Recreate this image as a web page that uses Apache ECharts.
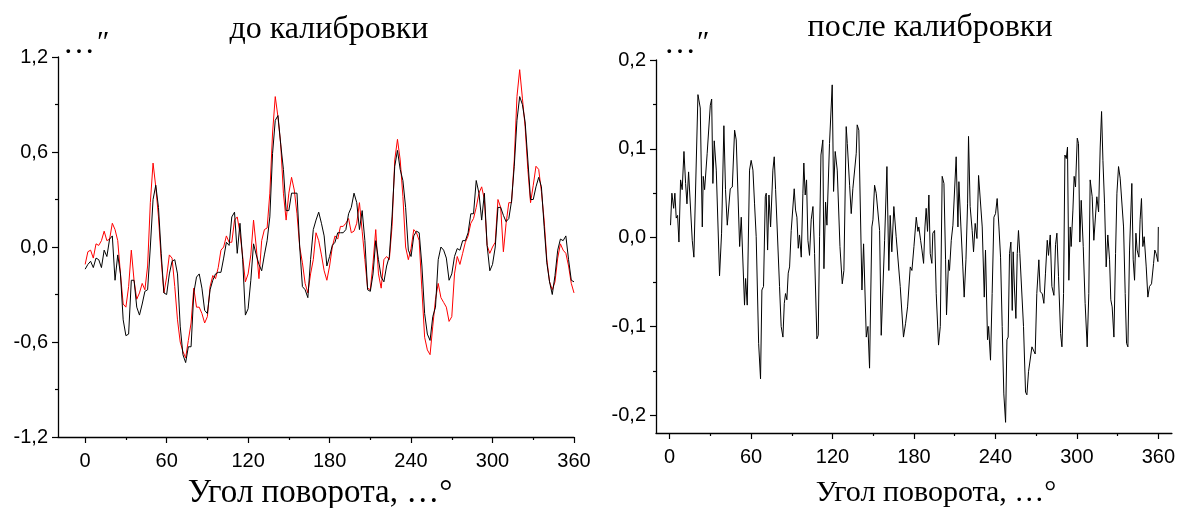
<!DOCTYPE html>
<html>
<head>
<meta charset="utf-8">
<script src="https://cdn.jsdelivr.net/npm/echarts@6/dist/echarts.min.js"></script>
<style>
  html, body { margin: 0; padding: 0; background: #fff; }
  #chart { width: 1178px; height: 508px; }
</style>
</head>
<body>
<div id="chart"></div>
<script>
// left panel: 2-degree step, 0..360
const STEP = 2;
const beforeBlack = [
  -0.14, -0.11, -0.09, -0.13, -0.07, -0.08, -0.13, -0.02, -0.06, 0.05,
  0.07, -0.21, -0.05, -0.17, -0.46, -0.56, -0.55, -0.21, -0.21, -0.38,
  -0.43, -0.36, -0.28, -0.27, 0.00, 0.30, 0.39, 0.25, -0.04, -0.29,
  -0.30, -0.17, -0.09, -0.08, -0.17, -0.50, -0.68, -0.73, -0.63, -0.63,
  -0.29, -0.19, -0.17, -0.26, -0.40, -0.42, -0.27, -0.21, -0.17, -0.16,
  -0.16, -0.07, 0.03, 0.01, 0.19, 0.22, -0.04, 0.15, -0.08, -0.43,
  -0.39, -0.21, 0.02, -0.05, -0.11, -0.15, -0.05, 0.04, 0.19, 0.59,
  0.80, 0.83, 0.65, 0.49, 0.23, 0.23, 0.34, 0.34, 0.34, 0.00,
  -0.25, -0.27, -0.32, -0.08, 0.11, 0.17, 0.22, 0.15, 0.07, -0.12,
  -0.06, 0.01, 0.03, 0.09, 0.09, 0.09, 0.11, 0.21, 0.25, 0.34,
  0.28, 0.11, 0.23, 0.04, -0.27, -0.28, -0.17, 0.04, -0.08, -0.19,
  -0.22, -0.12, -0.06, 0.19, 0.51, 0.61, 0.49, 0.42, 0.25, -0.02,
  -0.06, 0.07, 0.10, 0.09, -0.12, -0.42, -0.55, -0.59, -0.44, -0.38,
  -0.08, 0.00, -0.02, -0.07, -0.21, -0.17, -0.06, -0.01, -0.02, 0.04,
  0.04, 0.09, 0.21, 0.21, 0.42, 0.34, 0.17, 0.34, 0.01, -0.15,
  -0.11, 0.00, 0.25, 0.25, 0.20, 0.16, 0.18, 0.29, 0.51, 0.80,
  0.95, 0.90, 0.79, 0.55, 0.30, 0.30, 0.38, 0.44, 0.38, 0.13,
  -0.10, -0.22, -0.30, -0.18, -0.02, 0.05, 0.04, 0.07, -0.08, -0.21,
  -0.22
];
const beforeRed = [
  -0.11, -0.03, -0.02, -0.07, 0.02, 0.01, 0.04, 0.10, 0.04, 0.05,
  0.15, 0.11, 0.04, -0.17, -0.36, -0.38, -0.25, -0.02, -0.21, -0.33,
  -0.29, -0.23, -0.27, -0.12, 0.28, 0.53, 0.38, 0.19, -0.08, -0.29,
  -0.19, -0.05, -0.07, -0.25, -0.46, -0.60, -0.66, -0.70, -0.59, -0.48,
  -0.26, -0.38, -0.38, -0.42, -0.48, -0.44, -0.25, -0.18, -0.20, -0.13,
  -0.02, 0.00, 0.07, 0.03, 0.03, 0.17, 0.19, 0.09, -0.06, -0.22,
  -0.17, -0.05, 0.17, 0.00, -0.20, 0.04, 0.11, 0.12, 0.34, 0.72,
  0.95, 0.82, 0.65, 0.34, 0.17, 0.34, 0.44, 0.36, 0.21, 0.00,
  -0.10, -0.23, -0.29, -0.17, -0.08, 0.09, 0.04, -0.05, -0.15, -0.21,
  -0.12, 0.00, 0.07, 0.05, 0.13, 0.13, 0.15, 0.18, 0.09, 0.10,
  0.15, 0.28, 0.10, -0.08, -0.26, -0.27, -0.10, 0.11, -0.17, -0.26,
  -0.08, -0.06, -0.08, 0.13, 0.55, 0.68, 0.55, 0.32, 0.00, -0.08,
  -0.01, 0.11, 0.09, 0.04, -0.27, -0.57, -0.65, -0.68, -0.50, -0.33,
  -0.23, -0.32, -0.35, -0.38, -0.47, -0.44, -0.17, -0.06, -0.11, -0.04,
  0.03, 0.07, 0.15, 0.18, 0.25, 0.34, 0.38, 0.30, 0.01, -0.04,
  0.00, 0.03, 0.30, 0.25, -0.03, 0.15, 0.28, 0.28, 0.55, 0.95,
  1.12, 0.94, 0.76, 0.49, 0.28, 0.39, 0.51, 0.49, 0.35, 0.17,
  -0.08, -0.22, -0.27, -0.22, -0.07, 0.02, -0.02, -0.04, -0.12, -0.23,
  -0.29
];

// right panel: traced vertices (angle, value)
const afterAngles = [
  0.7, 1.7, 3.0, 3.9, 4.9, 5.9, 6.9, 8.1, 9.3, 10.6, 11.8, 12.8, 14.0, 15.2, 16.7, 17.9, 18.9,
  20.9, 21.6, 22.6, 24.1, 24.8, 25.8, 27.7, 29.0, 30.0, 31.0, 31.9, 32.9, 34.4, 36.8, 38.3,
  40.0, 41.2, 42.5, 43.5, 44.7, 46.2, 47.9, 49.1, 51.6, 52.8, 55.2, 56.0, 57.2, 58.9, 60.1,
  61.4, 62.6, 63.8, 65.6, 67.0, 68.0, 69.2, 70.5, 71.2, 72.2, 73.2, 74.4, 76.1, 77.1, 78.1,
  79.0, 81.0, 82.2, 83.5, 84.5, 85.4, 86.4, 87.4, 88.4, 89.6, 90.8, 91.8, 92.8, 93.8, 94.8,
  95.7, 97.0, 98.2, 98.9, 99.9, 100.9, 101.9, 103.1, 104.3, 105.6, 106.8, 108.5, 109.5,
  110.5, 111.5, 112.9, 113.7, 114.9, 115.9, 117.8, 118.6, 119.8, 120.8, 122.0, 123.5, 125.5,
  127.2, 128.4, 130.1, 130.9, 132.6, 133.8, 135.0, 136.3, 137.5, 138.2, 139.4, 141.7, 142.9,
  144.9, 146.1, 147.3, 149.0, 149.8, 151.0, 152.2, 153.4, 154.7, 155.9, 156.9, 158.4, 158.8,
  160.1, 161.5, 162.5, 163.7, 165.2, 166.2, 166.9, 168.2, 169.9, 172.3, 173.8, 175.3, 176.3,
  177.3, 178.5, 180.0, 180.9, 181.7, 182.9, 183.6, 184.9, 185.9, 187.1, 188.1, 189.0, 190.0,
  191.0, 192.0, 193.2, 193.9, 195.2, 196.4, 198.1, 199.4, 200.8, 202.1, 203.3, 204.0, 205.5,
  206.2, 207.5, 208.7, 209.9, 211.1, 212.4, 213.1, 214.6, 216.0, 217.0, 218.3, 219.5, 220.2,
  221.4, 222.9, 223.9, 225.1, 226.4, 227.6, 228.8, 230.3, 231.8, 232.7, 234.2, 235.0, 236.4,
  237.6, 238.9, 240.1, 241.3, 242.6, 243.8, 245.0, 246.2, 247.5, 248.5, 249.4, 250.4, 251.4,
  252.4, 253.1, 254.1, 255.1, 256.1, 257.0, 258.0, 259.3, 260.7, 262.2, 263.2, 264.4, 265.6,
  266.9, 268.1, 269.3, 270.5, 272.0, 273.0, 274.5, 275.7, 276.9, 278.2, 279.1, 280.4, 281.6,
  283.1, 284.3, 285.3, 286.5, 288.0, 289.0, 290.2, 291.2, 292.2, 293.1, 294.1, 295.1, 295.8,
  297.1, 298.0, 299.0, 300.3, 301.2, 302.2, 303.2, 304.7, 306.1, 307.6, 308.8, 309.8, 311.3,
  312.5, 313.8, 314.7, 316.0, 317.2, 318.2, 319.2, 320.4, 321.6, 322.8, 324.1, 325.0, 326.0,
  327.3, 328.5, 329.5, 330.7, 331.9, 333.2, 334.4, 335.6, 336.6, 337.6, 338.8, 339.8, 340.5,
  341.5, 342.5, 343.5, 344.4, 345.7, 346.6, 347.6, 348.6, 349.6, 351.1, 352.3, 353.5, 355.0,
  356.5, 357.4, 358.4, 359.7, 360.0
];
const afterValues = [
  0.014, 0.050, 0.033, 0.050, 0.022, 0.025, -0.005, 0.065, 0.054, 0.097, 0.061, 0.038, 0.074, 0.072, -0.003, -0.022, -0.022,
  0.161, 0.159, 0.146, 0.012, 0.069, 0.054, 0.095, 0.093, 0.149, 0.156, 0.061, 0.109, 0.076, -0.043, 0.005,
  0.126, 0.054, 0.014, 0.012, 0.055, 0.057, 0.121, 0.110, -0.010, 0.023, -0.076, -0.046, -0.076, 0.076, 0.087,
  0.076, 0.038, 0.001, -0.119, -0.159, -0.059, -0.055, 0.046, 0.050, -0.014, 0.048, 0.012, 0.076, 0.091, 0.054,
  0.055, -0.055, -0.100, -0.112, -0.074, -0.063, -0.070, -0.040, -0.033, 0.008, 0.007, 0.055, 0.031, 0.023, -0.012,
  0.003, -0.022, 0.050, 0.084, 0.048, 0.065, -0.003, -0.020, 0.020, 0.035, -0.018, -0.114, -0.110,
  0.001, 0.093, 0.110, -0.035, 0.040, 0.014, 0.106, 0.106, 0.172, 0.052, 0.097, 0.076, -0.010,
  -0.052, -0.037, 0.125, 0.106, 0.059, 0.027, 0.055, 0.053, 0.095, 0.127, 0.121, -0.059, -0.007,
  -0.112, -0.100, -0.147, 0.012, 0.020, 0.059, 0.050, 0.048, 0.008, -0.110, -0.110, -0.003, -0.003,
  0.080, -0.037, 0.025, -0.016, 0.035, 0.035, 0.001, 0.001, -0.055, -0.112, -0.097, -0.078, -0.078,
  -0.033, -0.037, -0.010, -0.012, 0.023, 0.007, 0.012, -0.003, -0.014, -0.029, 0.012, 0.033, 0.007,
  0.048, -0.018, -0.029, 0.005, 0.008, -0.063, -0.121, -0.100, 0.069, 0.061, -0.025, -0.087, -0.025,
  -0.037, -0.003, 0.014, 0.014, 0.091, 0.012, 0.063, 0.012, -0.033, -0.067, -0.025, 0.038, 0.114,
  0.035, 0.008, -0.016, 0.016, -0.001, 0.070, 0.070, 0.012, -0.067, -0.014, -0.115, -0.100, -0.138,
  -0.063, 0.023, 0.027, 0.044, 0.012, -0.022, -0.100, -0.176, -0.208, -0.115, -0.112, -0.018, -0.005,
  -0.082, -0.016, -0.059, -0.091, -0.018, 0.008, -0.018, -0.018, -0.100, -0.174, -0.177, -0.151, -0.149,
  -0.123, -0.121, -0.131, -0.063, -0.025, -0.061, -0.063, -0.074, -0.040, -0.003, -0.020, 0.003, -0.055,
  -0.065, -0.008, 0.005, -0.044, -0.108, -0.123, -0.063, 0.093, 0.089, 0.102, -0.048, 0.012, -0.010,
  0.031, 0.069, 0.057, 0.112, 0.106, -0.005, 0.042, -0.010, -0.074, -0.123, -0.063, 0.065, 0.046,
  -0.003, -0.005, 0.046, 0.029, 0.102, 0.142, 0.087, 0.038, -0.033, 0.003, -0.025, -0.070, -0.078,
  -0.112, -0.018, 0.050, 0.080, 0.067, 0.065, 0.012, -0.063, -0.119, -0.123, -0.014, -0.014, 0.061,
  -0.025, -0.048, 0.005, -0.014, -0.022, 0.020, 0.044, -0.010, 0.001, -0.033, -0.067, -0.055, -0.052,
  -0.029, -0.014, -0.018, -0.027, 0.012
];

const xMajor = [0, 60, 120, 180, 240, 300, 360];
const xMinor = [30, 90, 150, 210, 270, 330];
const leftYMajor = [-1.2, -0.6, 0, 0.6, 1.2];
const leftYMinor = [-0.9, -0.3, 0.3, 0.9];
const rightYMajor = [-0.2, -0.1, 0, 0.1, 0.2];
const rightYMinor = [-0.15, -0.05, 0.05, 0.15];

const titleLeft = "до калибровки";
const titleRight = "после калибровки";
const xName = "Угол поворота, …°";
const unitDots = "…";
const unitMark = "″";

const TICK_FONT = "Liberation Sans";
const TICK_SIZE = 20;
const SERIF = "Liberation Serif";
const fmtComma = v => (Math.abs(v) < 1e-9 ? "0,0" : v.toFixed(1).replace(".", ","));

function valueAxis(grid, opts, showLine) {
  return Object.assign({
    type: "value",
    gridIndex: grid,
    splitLine: { show: false },
    axisLine: { show: showLine, onZero: false, lineStyle: { color: "#000", width: 1.3 } },
    axisTick: { show: true, inside: false, length: 6, lineStyle: { color: "#000", width: 1.2 } },
    axisLabel: { show: false },
  }, opts);
}

function xAxes(grid, min, max) {
  return [
    valueAxis(grid, {
      min, max, position: "bottom",
      axisTick: { show: true, length: 6, customValues: xMajor, lineStyle: { color: "#000", width: 1.2 } },
      axisLabel: { show: true, customValues: xMajor, color: "#000", fontFamily: TICK_FONT, fontSize: TICK_SIZE, margin: 14 },
    }, true),
    valueAxis(grid, {
      min, max, position: "bottom",
      axisTick: { show: true, length: 3, customValues: xMinor, lineStyle: { color: "#000", width: 1.2 } },
    }, false),
  ];
}

function yAxes(grid, min, max, major, minor) {
  return [
    valueAxis(grid, {
      min, max, position: "left",
      axisTick: { show: true, length: 6, customValues: major, lineStyle: { color: "#000", width: 1.2 } },
      axisLabel: { show: true, customValues: major, formatter: fmtComma, color: "#000", fontFamily: TICK_FONT, fontSize: TICK_SIZE, margin: 10 },
    }, true),
    valueAxis(grid, {
      min, max, position: "left",
      axisTick: { show: true, length: 3, customValues: minor, lineStyle: { color: "#000", width: 1.2 } },
    }, false),
  ];
}

function lineSeries(xi, yi, data, color) {
  return {
    type: "line",
    xAxisIndex: xi,
    yAxisIndex: yi,
    data,
    showSymbol: false,
    symbol: "none",
    animation: false,
    lineStyle: { color, width: 1 },
  };
}

function textEl(text, x, y, size, align, vAlign) {
  return {
    type: "text",
    x, y,
    style: {
      text,
      font: `${size}px "${SERIF}"`,
      fill: "#000",
      textAlign: align,
      textVerticalAlign: vAlign,
    },
  };
}

const chart = echarts.init(document.getElementById("chart"), null, { renderer: "canvas" });

chart.setOption({
  animation: false,
  backgroundColor: "#fff",
  grid: [
    { left: 58, top: 57, width: 516, height: 380 },
    { left: 656, top: 60, width: 516, height: 373 },
  ],
  xAxis: [...xAxes(0, -20, 360), ...xAxes(1, -10, 370)],
  yAxis: [
    ...yAxes(0, -1.2, 1.2, leftYMajor, leftYMinor),
    ...yAxes(1, -0.22, 0.2, rightYMajor, rightYMinor),
  ],
  series: [
    lineSeries(0, 0, beforeRed.map((v, i) => [i * STEP, v]), "#ff0000"),
    lineSeries(0, 0, beforeBlack.map((v, i) => [i * STEP, v]), "#000000"),
    lineSeries(2, 2, afterAngles.map((a, i) => [a, afterValues[i]]), "#000000"),
  ],
  graphic: [
    textEl(titleLeft, 329, 30, 32, "center", "middle"),
    textEl(titleRight, 930, 28, 32, "center", "middle"),
    textEl(unitDots, 63, 61, 32, "left", "bottom"),
    textEl(unitMark, 97, 58, 30, "left", "bottom"),
    textEl(unitDots, 664, 61, 32, "left", "bottom"),
    textEl(unitMark, 697, 58, 30, "left", "bottom"),
    textEl(xName, 320, 493, 33, "center", "middle"),
    textEl(xName, 936, 493, 30, "center", "middle"),
  ],
});
</script>
</body>
</html>
